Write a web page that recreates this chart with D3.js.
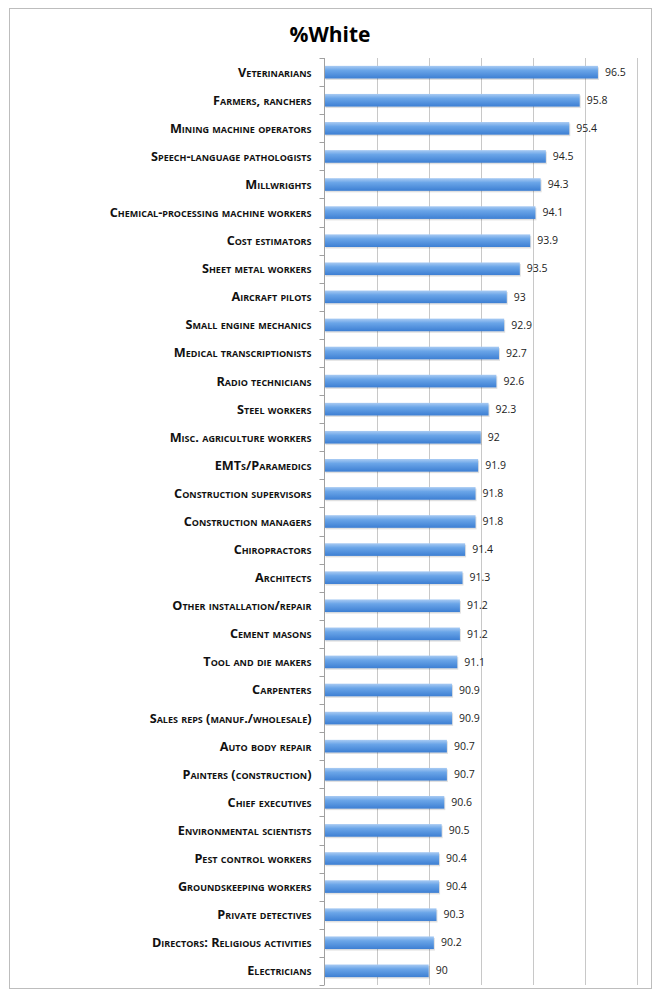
<!DOCTYPE html>
<html><head><meta charset="utf-8">
<script src="https://cdn.jsdelivr.net/npm/d3@7"></script>
<style>
body{margin:0;background:#fff;}
svg{display:block;}
</style></head>
<body>
<script>
const categories = ["Veterinarians","Farmers, ranchers","Mining machine operators","Speech-language pathologists","Millwrights","Chemical-processing machine workers","Cost estimators","Sheet metal workers","Aircraft pilots","Small engine mechanics","Medical transcriptionists","Radio technicians","Steel workers","Misc. agriculture workers","EMTs/Paramedics","Construction supervisors","Construction managers","Chiropractors","Architects","Other installation/repair","Cement masons","Tool and die makers","Carpenters","Sales reps (manuf./wholesale)","Auto body repair","Painters (construction)","Chief executives","Environmental scientists","Pest control workers","Groundskeeping workers","Private detectives","Directors: Religious activities","Electricians"];
const values = [96.5,95.8,95.4,94.5,94.3,94.1,93.9,93.5,93,92.9,92.7,92.6,92.3,92,91.9,91.8,91.8,91.4,91.3,91.2,91.2,91.1,90.9,90.9,90.7,90.7,90.6,90.5,90.4,90.4,90.3,90.2,90];
const xTicks = [86,88,90,92,94,96,98];
const title = "%White";

(function(){
const W=660,H=999;
const svg=d3.select("body").append("svg").attr("width",W).attr("height",H);
const defs=svg.append("defs");
const g=defs.append("linearGradient").attr("id","bg").attr("x1",0).attr("y1",0).attr("x2",0).attr("y2",1);
g.append("stop").attr("offset","0%").attr("stop-color","#a9cbf3");
g.append("stop").attr("offset","35%").attr("stop-color","#6aa5e8");
g.append("stop").attr("offset","100%").attr("stop-color","#3d7fd3");

svg.append("rect").attr("x",9.5).attr("y",8.5).attr("width",642).attr("height",980)
  .attr("fill","#fff").attr("stroke","#bdbdbd").attr("stroke-width",1);

svg.append("text").attr("x",330).attr("y",42).attr("text-anchor","middle")
  .attr("font-family","Open Sans, sans-serif").attr("font-weight","bold").attr("font-size",21)
  .text(title);

const pl=324.5, pr=637, pt=58, pb=985;
const x=d3.scaleLinear().domain([86,98]).range([pl,pr]);
const y=d3.scaleBand().domain(categories).range([pt,pb]).paddingInner(0.55).paddingOuter(0.28);
const yb=d3.scaleBand().domain(categories).range([pt,pb]);

svg.append("g").selectAll("line").data(xTicks.slice(1)).join("line")
  .attr("x1",d=>Math.round(x(d))+0.5).attr("x2",d=>Math.round(x(d))+0.5)
  .attr("y1",pt).attr("y2",pb).attr("stroke","#c8c8c8").attr("stroke-width",1);

svg.append("line").attr("x1",pl).attr("x2",pl).attr("y1",pt).attr("y2",pb).attr("stroke","#a0a0a0");
const bounds=categories.map(c=>yb(c)).concat([pb]);
svg.append("g").selectAll("line").data(bounds).join("line")
  .attr("x1",pl-5).attr("x2",pl).attr("y1",d=>Math.round(d)+0.5).attr("y2",d=>Math.round(d)+0.5)
  .attr("stroke","#a0a0a0");

const data=categories.map((c,i)=>({c,v:values[i]}));
svg.append("g").selectAll("rect").data(data).join("rect")
  .attr("x",pl+1).attr("y",d=>y(d.c)+1.5).attr("width",d=>x(d.v)-pl).attr("height",y.bandwidth())
  .attr("fill","#000").attr("opacity",0.12);
svg.append("g").selectAll("rect").data(data).join("rect")
  .attr("x",pl+0.5).attr("y",d=>y(d.c)).attr("width",d=>x(d.v)-pl-0.5).attr("height",y.bandwidth())
  .attr("fill","url(#bg)");

svg.append("g").selectAll("text").data(data).join("text")
  .attr("x",d=>x(d.v)+7).attr("y",d=>y(d.c)+y.bandwidth()/2).attr("dy","0.35em")
  .attr("font-family","Open Sans, sans-serif").attr("font-size",10.5).attr("fill","#222")
  .text(d=>d.v);

svg.append("g").selectAll("text").data(data).join("text")
  .attr("x",pl-13).attr("y",d=>y(d.c)+y.bandwidth()/2).attr("dy","0.35em").attr("text-anchor","end")
  .attr("font-family","Open Sans, sans-serif").attr("font-weight","bold").attr("font-size",12.7)
  .attr("font-variant","small-caps").attr("fill","#111")
  .text(d=>d.c);
})();
</script>
</body></html>
